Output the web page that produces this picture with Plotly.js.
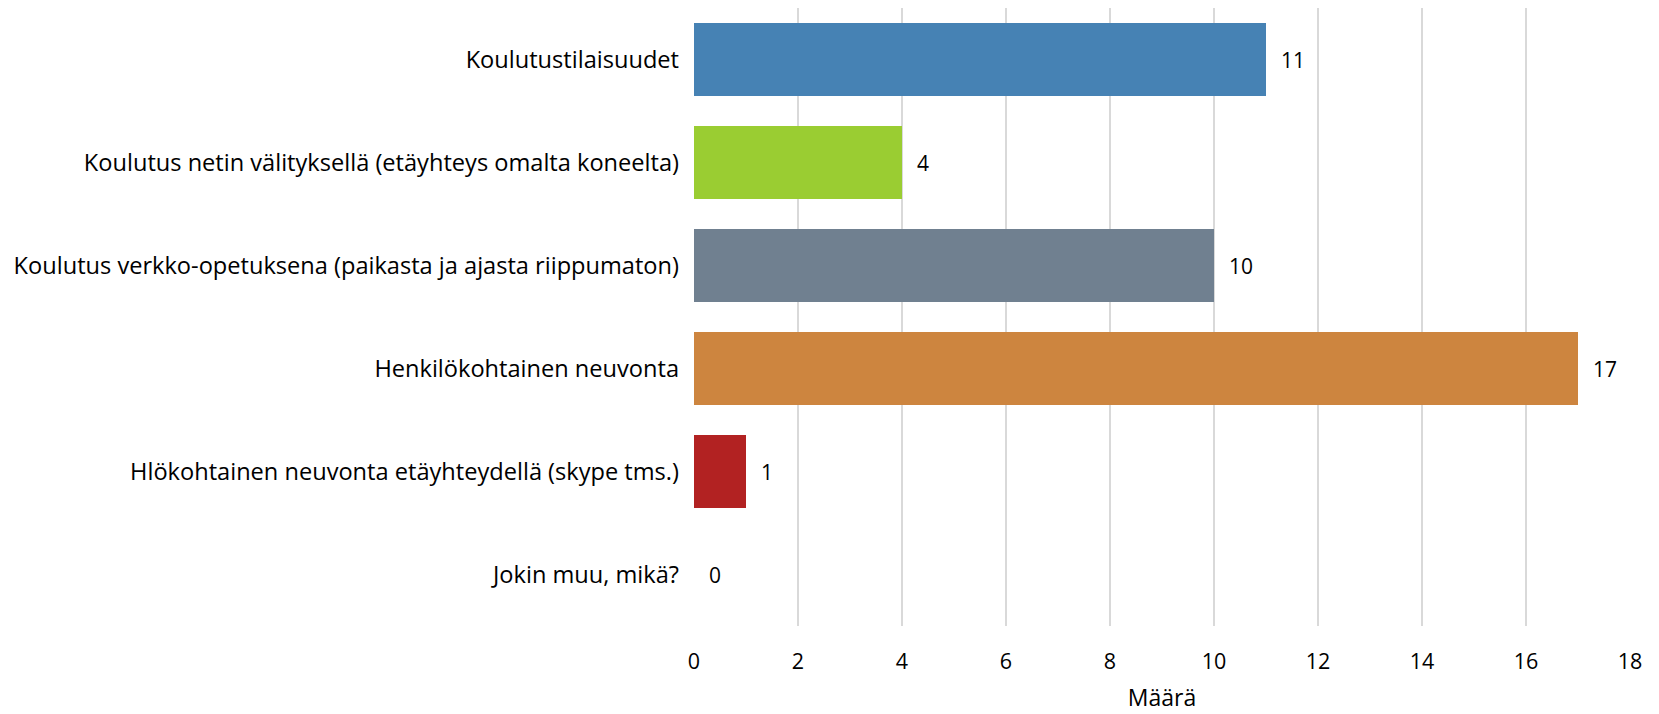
<!DOCTYPE html>
<html>
<head>
<meta charset="utf-8">
<script src="https://cdn.plot.ly/plotly-3.0.1.min.js"></script>
<style>html,body{margin:0;padding:0;background:#fff;}#chart{width:1659px;height:714px;}</style>
</head>
<body>
<div id="chart"></div>
<script>
var categories = [
  "Koulutustilaisuudet",
  "Koulutus netin välityksellä (etäyhteys omalta koneelta)",
  "Koulutus verkko-opetuksena (paikasta ja ajasta riippumaton)",
  "Henkilökohtainen neuvonta",
  "Hlökohtainen neuvonta etäyhteydellä (skype tms.)",
  "Jokin muu, mikä?"
];
var values = [11, 4, 10, 17, 1, 0];
var colors = ["#4682B4", "#9ACD32", "#708090", "#CD853F", "#B22222", "#5B9BD5"];
var xTitle = "Määrä";

var font = "Open Sans, Noto Sans, sans-serif";

var trace = {
  type: "bar",
  orientation: "h",
  x: values,
  y: categories,
  marker: {color: colors},
  width: 0.71,
  hoverinfo: "none"
};

var annotations = values.map(function(v, i){
  return {
    x: v, y: categories[i], xref: "x", yref: "y",
    text: String(v), showarrow: false, xanchor: "left", xshift: 13,
    font: {family: font, size: 21, color: "#000"}
  };
});

var layout = {
  width: 1659, height: 714,
  margin: {l: 694, r: 29, t: 8, b: 88},
  paper_bgcolor: "#fff", plot_bgcolor: "#fff",
  showlegend: false,
  font: {family: font, size: 19, color: "#000"},
  xaxis: {
    range: [0, 18], dtick: 2, tick0: 0,
    showgrid: true, gridcolor: "#D9D9D9", gridwidth: 2,
    zeroline: false, showline: false, ticks: "",
    ticklabelstandoff: 20,
    tickfont: {family: font, size: 21.5, color: "#000"},
    title: {text: xTitle, font: {family: font, size: 23, color: "#000"}, standoff: 16},
    fixedrange: true
  },
  yaxis: {
    autorange: "reversed",
    showgrid: false, zeroline: false, showline: false, ticks: "",
    ticklabelstandoff: 14,
    tickfont: {family: font, size: 23.6, color: "#000"},
    fixedrange: true
  },
  annotations: annotations
};

Plotly.newPlot("chart", [trace], layout, {displayModeBar: false, staticPlot: true});
</script>
</body>
</html>
